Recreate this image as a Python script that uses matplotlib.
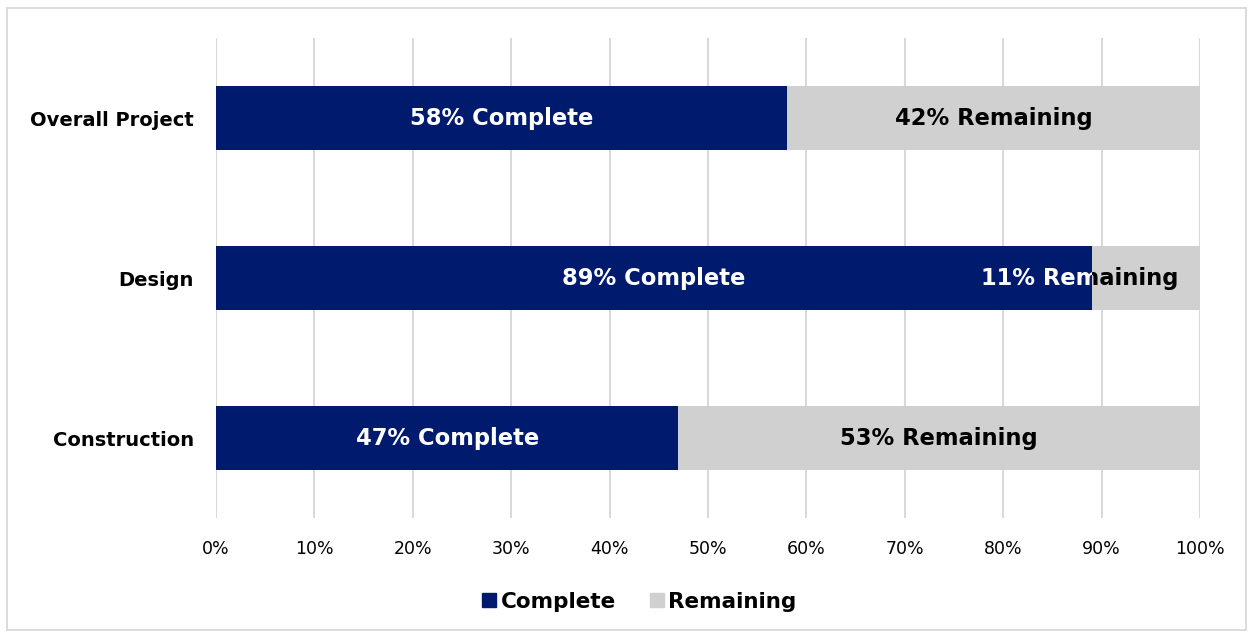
import matplotlib.pyplot as plt
from matplotlib.patches import Rectangle
from matplotlib.lines import Line2D
from matplotlib.ticker import MultipleLocator, FuncFormatter

# data
categories = ["Construction", "Design", "Overall Project"]
complete = [47, 89, 58]
remaining = [53, 11, 42]

NAVY = "#001A6E"
GRAY = "#D0D0D0"
GRID = "#D9D9D9"

plt.rcParams['font.family'] = ["DejaVu Sans"]

fig = plt.figure(figsize=(12.52, 6.35), dpi=100)
ax = fig.add_axes([216 / 1252, 117 / 635, 984 / 1252, 480 / 635])

# border around the whole chart
fig.patches.append(Rectangle((7 / 1252, 5 / 635), 1239 / 1252, 622 / 635,
                             transform=fig.transFigure, fill=False,
                             edgecolor=GRID, linewidth=1.3))

ypos = list(range(len(categories)))
bars_c = ax.barh(ypos, complete, height=0.4, color=NAVY, zorder=2)
bars_r = ax.barh(ypos, remaining, left=complete, height=0.4, color=GRAY, zorder=2)

ax.set_xlim(0, 100)
ax.set_ylim(-0.5, 2.5)
ax.xaxis.set_major_locator(MultipleLocator(10))
ax.xaxis.set_major_formatter(FuncFormatter(lambda v, p: f"{v:.0f}%"))
ax.grid(axis='x', color=GRID, linewidth=1.5, zorder=0)
ax.set_axisbelow(True)
for s in ax.spines.values():
    s.set_visible(False)
ax.tick_params(axis='x', length=0, pad=16, labelsize=12.5, labelcolor="#000000")
ax.tick_params(axis='y', length=0, pad=16)
ax.set_yticks(ypos)
ax.set_yticklabels(categories, fontsize=14, fontweight='bold')


def two_tone(x, y, text, ha, pc, pr):
    # white where over the navy part, black where over the gray part
    for color, patch in (("white", pc), ("black", pr)):
        t = ax.text(x, y, text, ha=ha, va='center', color=color,
                    fontsize=16.3, fontweight='bold', zorder=3, clip_on=True)
        t.set_clip_path(patch)


for i, (c, r) in enumerate(zip(complete, remaining)):
    pc, pr = bars_c[i], bars_r[i]
    two_tone(c / 2, i, f"{c}% Complete", 'center', pc, pr)
    if r < 20:
        two_tone(97.8, i, f"{r}% Remaining", 'right', pc, pr)
    else:
        two_tone(c + r / 2, i, f"{r}% Remaining", 'center', pc, pr)

handles = [Line2D([], [], marker='s', linestyle='', markersize=10, color=NAVY),
           Line2D([], [], marker='s', linestyle='', markersize=10, color=GRAY)]
fig.legend(handles, ["Complete", "Remaining"], loc='center',
           bbox_to_anchor=(0.509, 0.052), ncol=2, frameon=False,
           prop={'weight': 'bold', 'size': 15.5}, handletextpad=0.05,
           columnspacing=1.4, handlelength=1.0)

fig.savefig("out.png", dpi=100)
plt.close(fig)
